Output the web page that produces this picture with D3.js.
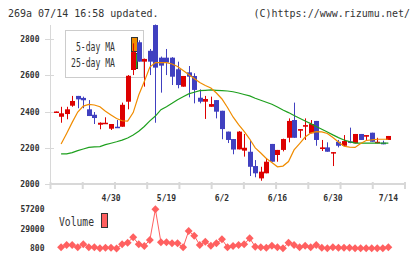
<!DOCTYPE html>
<html lang="ja">
<head>
<meta charset="UTF-8">
<title>269a chart</title>
<style>
  body { margin: 0; background: #fff; }
  svg text { font-family: "DejaVu Sans Mono", monospace; fill: #333; }
  .tick-label { font-size: 8px; font-weight: bold; }
</style>
</head>
<body>
<script src="https://d3js.org/d3.v7.min.js"></script>
<script>
// daily candles, index 0..60
const opens  = [2395,2371,2386,2432,2486,2475,2412,2382,2327,2331,2305,2316,2316,2454,2629,2782,2675,2735,2877,2697,2697,2697,2633,2537,2616,2596,2476,2454,2426,2463,2404,2289,2248,2191,2184,2178,2099,2031,2059,2221,2160,2188,2255,2353,2294,2316,2280,2348,2193,2202,2173,2233,2211,2235,2225,2276,2261,2283,2225,2228,2243];
const highs  = [2400,2426,2426,2486,2486,2482,2463,2397,2340,2368,2331,2353,2449,2601,2776,2793,2692,2745,2880,2703,2745,2700,2675,2596,2651,2611,2522,2486,2482,2463,2404,2289,2248,2292,2276,2243,2132,2095,2142,2221,2188,2250,2362,2449,2303,2362,2353,2348,2243,2230,2176,2243,2270,2311,2276,2276,2270,2283,2255,2239,2265];
const lows   = [2395,2338,2357,2426,2418,2418,2375,2331,2302,2331,2298,2309,2316,2412,2601,2675,2537,2601,2338,2504,2601,2546,2528,2537,2478,2445,2445,2359,2426,2362,2247,2226,2164,2191,2151,2044,2037,2018,2059,2123,2123,2180,2230,2255,2255,2243,2280,2211,2182,2178,2099,2202,2211,2225,2225,2243,2243,2233,2225,2219,2243];
const closes = [2400,2390,2412,2458,2467,2462,2375,2364,2338,2338,2331,2309,2437,2597,2728,2675,2690,2675,2642,2653,2670,2592,2546,2596,2592,2519,2454,2469,2441,2399,2303,2243,2190,2289,2200,2095,2059,2068,2123,2123,2188,2248,2348,2255,2303,2325,2331,2243,2202,2178,2176,2211,2237,2230,2276,2243,2270,2233,2233,2219,2265];

// moving averages as drawn
const ma5  = [null,2221,2279,2340,2397,2430,2439,2436,2426,2401,2381,2361,2349,2347,2394,2491,2565,2645,2670,2670,2670,2662,2648,2626,2604,2582,2560,2543,2530,2502,2469,2422,2370,2328,2290,2248,2199,2171,2141,2119,2095,2099,2124,2188,2223,2259,2281,2289,2288,2279,2257,2232,2208,2203,2202,2223,2240,2243,2247,2247,2247];
const ma25 = [null,2166,2166,2173,2184,2193,2202,2205,2206,2217,2225,2233,2242,2254,2270,2291,2317,2348,2375,2410,2426,2445,2465,2481,2497,2506,2515,2517,2519,2517,2515,2513,2509,2502,2494,2486,2473,2462,2451,2440,2425,2408,2394,2378,2363,2348,2333,2317,2302,2287,2271,2256,2243,2234,2226,2225,2225,2225,2225,2225,2225];

const volumes = [null,2250,5570,5570,2250,6580,2250,2250,800,1670,1670,600,6580,8900,16700,6580,4130,12800,57200,9480,9480,8030,8030,2250,25800,19000,5570,10300,4560,8030,13800,2250,4130,5570,6580,15300,3110,2250,1670,4560,2250,800,8900,5570,2250,4560,2250,5570,1670,800,2250,1670,1670,1670,800,800,800,800,800,800,2250];

const yTicks = [2000, 2200, 2400, 2600, 2800];
const volTicks = [800, 29000, 57200];
const dateTickIndex = [10, 20, 30, 40, 50, 60];
const dateTickLabels = ["4/30", "5/19", "6/2", "6/16", "6/30", "7/14"];

const width = 420, height = 259;
const up = "#dd0000", down = "#4040c0";

const svg = d3.select("body").append("svg")
  .attr("width", width).attr("height", height);

const x = d3.scaleLinear().domain([-1, 63]).range([50, 405]);
const y = d3.scaleLinear().domain([2000, 2800]).range([184, 39]);
const yv = d3.scaleLinear().domain([800, 57200]).range([248.3, 209.3]);

// header
svg.append("text").attr("x", 8).attr("y", 16.5).attr("font-size", 10)
  .text("269a 07/14 16:58 updated.");
svg.append("text").attr("x", 410).attr("y", 16.5).attr("font-size", 10)
  .attr("text-anchor", "end")
  .text("(C)https://www.rizumu.net/");

// axes
const grid = "#d8d8d8";
svg.append("line").attr("x1", 50.5).attr("x2", 50.5).attr("y1", 25).attr("y2", 184)
  .attr("stroke", grid);
svg.selectAll("line.ytick").data(yTicks).enter().append("line")
  .attr("class", "ytick")
  .attr("x1", 45).attr("x2", 54)
  .attr("y1", d => Math.round(y(d)) + 0.5).attr("y2", d => Math.round(y(d)) + 0.5)
  .attr("stroke", grid);
svg.selectAll("text.ylab").data(yTicks).enter().append("text")
  .attr("class", "tick-label")
  .attr("x", 39.5).attr("y", d => y(d) + 3)
  .attr("text-anchor", "end")
  .text(d => d);

svg.append("line").attr("x1", 50).attr("x2", 405).attr("y1", 184).attr("y2", 184)
  .attr("stroke", grid).attr("stroke-width", 2);
const gx = d3.scaleLinear().domain([0, 11]).range([50.5, 405]);
svg.selectAll("line.xtick").data(d3.range(12)).enter().append("line")
  .attr("x1", d => gx(d)).attr("x2", d => gx(d))
  .attr("y1", 182).attr("y2", 189)
  .attr("stroke", grid).attr("stroke-width", 2);
svg.selectAll("text.xlab").data(dateTickIndex).enter().append("text")
  .attr("class", "tick-label")
  .attr("x", d => x(d)).attr("y", 201)
  .attr("text-anchor", "middle")
  .text((d, i) => dateTickLabels[i]);

// legend (candles overlap it)
svg.append("rect").attr("x", 65.5).attr("y", 30.5).attr("width", 78).attr("height", 47)
  .attr("fill", "#fff").attr("stroke", "#ccc");
svg.append("text").attr("x", 76).attr("y", 50.5).attr("font-size", 13)
  .attr("textLength", 39).attr("lengthAdjust", "spacingAndGlyphs")
  .text("5-day MA");
svg.append("text").attr("x", 71).attr("y", 67).attr("font-size", 13)
  .attr("textLength", 44).attr("lengthAdjust", "spacingAndGlyphs")
  .text("25-day MA");
svg.append("rect").attr("x", 131.5).attr("y", 37.5).attr("width", 6).attr("height", 14)
  .attr("fill", "#f08c00").attr("stroke", "#333");
svg.append("rect").attr("x", 131.5).attr("y", 53.5).attr("width", 6).attr("height", 15)
  .attr("fill", "#22aa22").attr("stroke", "#333");

// candles
const idx = d3.range(opens.length);
const cx = i => Math.round(x(i));
svg.selectAll("line.wick").data(idx).enter().append("line")
  .attr("x1", i => cx(i) + 0.5).attr("x2", i => cx(i) + 0.5)
  .attr("y1", i => y(highs[i])).attr("y2", i => y(lows[i]))
  .attr("stroke", i => closes[i] >= opens[i] ? up : down);
svg.selectAll("rect.body").data(idx).enter().append("rect")
  .attr("x", i => cx(i) - 2).attr("width", 5)
  .attr("y", i => y(Math.max(opens[i], closes[i])))
  .attr("height", i => Math.max(1.5, Math.abs(y(opens[i]) - y(closes[i]))))
  .attr("fill", i => closes[i] >= opens[i] ? up : down);

// moving averages
const maLine = arr => d3.line()
  .defined(i => arr[i] != null)
  .x(i => x(i)).y(i => y(arr[i]));
svg.append("path").attr("d", maLine(ma25)(idx))
  .attr("fill", "none").attr("stroke", "#1ea01e").attr("stroke-width", 1.2);
svg.append("path").attr("d", maLine(ma5)(idx))
  .attr("fill", "none").attr("stroke", "#f08c00").attr("stroke-width", 1.2);

// volume panel
svg.selectAll("text.vlab").data(volTicks).enter().append("text")
  .attr("class", "tick-label")
  .attr("x", 44.5).attr("y", d => yv(d) + 3)
  .attr("text-anchor", "end")
  .text(d => d);
svg.append("text").attr("x", 59).attr("y", 225.5).attr("font-size", 11.5)
  .attr("textLength", 35).attr("lengthAdjust", "spacingAndGlyphs")
  .text("Volume");
svg.append("rect").attr("x", 101.5).attr("y", 213.5).attr("width", 6).attr("height", 14)
  .attr("fill", "#ff6060").attr("stroke", "#333");

const volIdx = idx.filter(i => volumes[i] != null);
svg.append("path")
  .attr("d", d3.line().x(i => x(i)).y(i => yv(volumes[i]))(volIdx))
  .attr("fill", "none").attr("stroke", "#ff6060").attr("stroke-width", 1);
svg.selectAll("path.vdot").data(volIdx).enter().append("path")
  .attr("d", d3.symbol(d3.symbolDiamond2, 40))
  .attr("transform", i => `translate(${x(i)},${yv(volumes[i])})`)
  .attr("fill", "#ff6060");
</script>
</body>
</html>
